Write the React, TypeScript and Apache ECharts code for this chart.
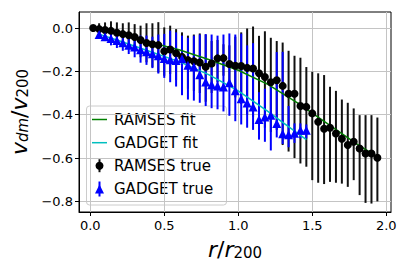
import React, { useEffect, useRef } from "react";
import * as echarts from "echarts";

// ---------- data ----------
const ramsesR = [0.02, 0.06, 0.10, 0.14, 0.18, 0.22, 0.26, 0.30, 0.34, 0.38, 0.42, 0.46, 0.50, 0.54, 0.58, 0.62, 0.66, 0.70, 0.74, 0.78, 0.82, 0.86, 0.90, 0.94, 0.98, 1.02, 1.06, 1.10, 1.14, 1.18, 1.22, 1.26, 1.30, 1.34, 1.38, 1.42, 1.46, 1.50, 1.54, 1.58, 1.62, 1.66, 1.70, 1.74, 1.78, 1.82, 1.86, 1.90, 1.94];
const ramsesV = [0.0, -0.005, -0.009, -0.013, -0.022, -0.028, -0.033, -0.041, -0.055, -0.069, -0.075, -0.079, -0.107, -0.099, -0.116, -0.133, -0.148, -0.153, -0.159, -0.179, -0.164, -0.14, -0.139, -0.166, -0.174, -0.175, -0.184, -0.187, -0.209, -0.226, -0.25, -0.241, -0.267, -0.303, -0.303, -0.36, -0.364, -0.394, -0.433, -0.465, -0.46, -0.487, -0.511, -0.54, -0.525, -0.556, -0.579, -0.579, -0.599];
const ramsesHi = [0.003, 0.022, 0.026, 0.031, 0.026, 0.022, 0.026, 0.018, 0.011, 0.022, 0.022, 0.027, 0.003, 0.011, -0.005, -0.02, -0.035, -0.03, -0.025, -0.03, -0.06, -0.055, -0.075, -0.08, -0.04, -0.02, -0.002, 0.007, -0.036, -0.015, -0.045, -0.06, -0.067, -0.105, -0.128, -0.137, -0.18, -0.202, -0.209, -0.217, -0.271, -0.29, -0.33, -0.345, -0.371, -0.402, -0.402, -0.402, -0.413];
const ramsesLo = [-0.003, -0.043, -0.05, -0.058, -0.074, -0.08, -0.097, -0.105, -0.135, -0.158, -0.181, -0.205, -0.22, -0.212, -0.24, -0.26, -0.28, -0.29, -0.3, -0.34, -0.3, -0.25, -0.22, -0.27, -0.32, -0.35, -0.4, -0.41, -0.4, -0.46, -0.48, -0.47, -0.54, -0.57, -0.6, -0.625, -0.64, -0.702, -0.714, -0.72, -0.71, -0.714, -0.718, -0.733, -0.702, -0.771, -0.807, -0.81, -0.8];

const gadgetR = [0.06, 0.10, 0.14, 0.18, 0.22, 0.26, 0.30, 0.34, 0.38, 0.42, 0.46, 0.50, 0.54, 0.58, 0.62, 0.66, 0.70, 0.74, 0.78, 0.82, 0.86, 0.90, 0.94, 0.98, 1.02, 1.06, 1.10, 1.14, 1.18, 1.22, 1.26, 1.30, 1.34, 1.38, 1.42, 1.46];
const gadgetV = [-0.03, -0.04, -0.048, -0.058, -0.068, -0.079, -0.088, -0.1, -0.11, -0.119, -0.128, -0.141, -0.146, -0.15, -0.142, -0.172, -0.18, -0.216, -0.249, -0.262, -0.268, -0.272, -0.252, -0.29, -0.326, -0.346, -0.364, -0.422, -0.41, -0.402, -0.44, -0.488, -0.493, -0.486, -0.472, -0.472];
const gadgetHi = [-0.015, -0.018, -0.02, -0.022, -0.025, -0.028, -0.03, -0.035, -0.035, -0.04, -0.03, -0.027, -0.012, -0.02, -0.035, -0.045, -0.035, -0.03, -0.028, -0.03, -0.035, -0.03, -0.025, -0.03, -0.026, -0.08, -0.07, -0.296, -0.28, -0.257, -0.111, -0.11, -0.36, -0.44, -0.44, -0.445];
const gadgetLo = [-0.045, -0.06, -0.08, -0.092, -0.105, -0.12, -0.135, -0.16, -0.17, -0.185, -0.21, -0.23, -0.25, -0.27, -0.31, -0.33, -0.335, -0.345, -0.36, -0.37, -0.375, -0.385, -0.405, -0.43, -0.445, -0.46, -0.47, -0.515, -0.525, -0.565, -0.505, -0.535, -0.55, -0.53, -0.51, -0.51];

const ramsesFitR = [0.02, 0.2, 0.4, 0.6, 0.8, 1.0, 1.2, 1.4, 1.6, 1.8, 1.94];
const ramsesFitV = [-0.003, -0.03, -0.065, -0.1, -0.145, -0.195, -0.26, -0.345, -0.44, -0.535, -0.595];
const gadgetFitR = [0.06, 0.2, 0.4, 0.6, 0.8, 1.0, 1.2, 1.3, 1.46];
const gadgetFitV = [-0.028, -0.06, -0.107, -0.155, -0.215, -0.29, -0.385, -0.435, -0.515];

const xTicks = [0, 0.5, 1.0, 1.5, 2.0];
const yTicks = [-0.8, -0.6, -0.4, -0.2, 0.0];

const FONT = "DejaVu Sans";

function errRender(color: string, width: number) {
  return (params: any, api: any) => {
    const x = api.value(0);
    const p1 = api.coord([x, api.value(1)]);
    const p2 = api.coord([x, api.value(2)]);
    return {
      type: "line",
      shape: { x1: p1[0], y1: p1[1], x2: p2[0], y2: p2[1] },
      style: { stroke: color, lineWidth: width },
    };
  };
}

export default function App() {
  const ref = useRef<HTMLDivElement>(null);
  useEffect(() => {
    document.body.style.margin = "0";
    const chart = echarts.init(ref.current!, null, { renderer: "svg" });
    const fmt = (v: number) => (v < 0 ? "\u2212" : "") + Math.abs(v).toFixed(1);
    const legendRows = [
      { name: "RAMSES fit", y: 119.5 },
      { name: "GADGET fit", y: 142.7 },
      { name: "RAMSES true", y: 165.7 },
      { name: "GADGET true", y: 189 },
    ];
    const option: any = {
      animation: false,
      backgroundColor: "#ffffff",
      grid: {
        left: 79,
        right: 16,
        top: 12,
        bottom: 59,
        show: true,
        borderColor: "#000",
        borderWidth: 1,
        outerBoundsMode: "none",
      },
      xAxis: {
        type: "value",
        min: -0.076,
        max: 2.032,
        name: "{i|r}{n|/}{i|r}{s|200}",
        nameLocation: "middle",
        nameGap: 20,
        nameTextStyle: {
          rich: {
            i: { fontSize: 22, fontStyle: "italic", fontFamily: FONT, color: "#000", lineHeight: 28, verticalAlign: "bottom" },
            n: { fontSize: 22, fontFamily: FONT, color: "#000", lineHeight: 28, verticalAlign: "bottom" },
            s: { fontSize: 15, fontFamily: FONT, color: "#000", lineHeight: 14, verticalAlign: "bottom" },
          },
        },
        axisLine: { show: true, onZero: false, lineStyle: { color: "#000", width: 1 } },
        axisTick: { show: true, length: 4, customValues: xTicks, lineStyle: { color: "#000" } },
        axisLabel: {
          customValues: xTicks,
          formatter: fmt,
          fontSize: 13,
          fontFamily: FONT,
          color: "#000",
          margin: 7,
        },
        splitLine: { show: true, lineStyle: { color: "#c4c4c4", width: 1 } },
      },
      yAxis: {
        type: "value",
        min: -0.849,
        max: 0.074,
        name: "{i|v}{si|dm}{n|/}{i|v}{s|200}",
        nameLocation: "middle",
        nameRotate: 90,
        nameGap: 42,
        nameTextStyle: {
          rich: {
            i: { fontSize: 22, fontStyle: "italic", fontFamily: FONT, color: "#000", lineHeight: 28, verticalAlign: "bottom" },
            si: { fontSize: 15, fontStyle: "italic", fontFamily: FONT, color: "#000", lineHeight: 14, verticalAlign: "bottom" },
            n: { fontSize: 22, fontFamily: FONT, color: "#000", lineHeight: 28, verticalAlign: "bottom" },
            s: { fontSize: 15, fontFamily: FONT, color: "#000", lineHeight: 14, verticalAlign: "bottom" },
          },
        },
        axisLine: { show: true, onZero: false, lineStyle: { color: "#000", width: 1 } },
        axisTick: { show: true, length: 4, customValues: yTicks, lineStyle: { color: "#000" } },
        axisLabel: {
          customValues: yTicks,
          formatter: fmt,
          fontSize: 13,
          fontFamily: FONT,
          color: "#000",
          margin: 6,
        },
        splitLine: { show: true, lineStyle: { color: "#c4c4c4", width: 1 } },
      },
      series: [
        {
          name: "RAMSES true err",
          type: "custom",
          renderItem: errRender("#111111", 2),
          encode: { x: 0, y: [1, 2] },
          data: ramsesR.map((r, i) => [r, ramsesLo[i], ramsesHi[i]]),
          z: 2,
          clip: true,
        },
        {
          name: "GADGET true err",
          type: "custom",
          renderItem: errRender("#0000ff", 2),
          encode: { x: 0, y: [1, 2] },
          data: gadgetR.map((r, i) => [r, gadgetLo[i], gadgetHi[i]]),
          z: 3,
          clip: true,
        },
        {
          name: "RAMSES fit",
          type: "line",
          showSymbol: false,
          symbol: "none",
          lineStyle: { color: "#008000", width: 1.5 },
          data: ramsesFitR.map((r, i) => [r, ramsesFitV[i]]),
          z: 4,
        },
        {
          name: "GADGET fit",
          type: "line",
          showSymbol: false,
          symbol: "none",
          lineStyle: { color: "#00bfbf", width: 1.5 },
          data: gadgetFitR.map((r, i) => [r, gadgetFitV[i]]),
          z: 4,
        },
        {
          name: "RAMSES true",
          type: "scatter",
          symbol: "circle",
          symbolSize: 8,
          itemStyle: { color: "#000000", opacity: 1 },
          data: ramsesR.map((r, i) => [r, ramsesV[i]]),
          z: 5,
        },
        {
          name: "GADGET true",
          type: "scatter",
          symbol: "triangle",
          symbolSize: [9, 9],
          itemStyle: { color: "#0000ff", opacity: 1 },
          data: gadgetR.map((r, i) => [r, gadgetV[i]]),
          z: 6,
        },
      ],
      graphic: [
        {
          type: "group",
          z: 100,
          children: [
            {
              type: "rect",
              shape: { x: 86.5, y: 106, width: 140, height: 99, r: 3 },
              style: { fill: "rgba(255,255,255,0.8)", stroke: "#cccccc", lineWidth: 1 },
            },
            {
              type: "line",
              shape: { x1: 92, y1: legendRows[0].y, x2: 107, y2: legendRows[0].y },
              style: { stroke: "#008000", lineWidth: 1.5 },
            },
            {
              type: "line",
              shape: { x1: 92, y1: legendRows[1].y, x2: 107, y2: legendRows[1].y },
              style: { stroke: "#00bfbf", lineWidth: 1.5 },
            },
            {
              type: "line",
              shape: { x1: 99.5, y1: legendRows[2].y - 6.5, x2: 99.5, y2: legendRows[2].y + 6.5 },
              style: { stroke: "#111111", lineWidth: 2 },
            },
            {
              type: "circle",
              shape: { cx: 99.5, cy: legendRows[2].y, r: 4 },
              style: { fill: "#000000" },
            },
            {
              type: "line",
              shape: { x1: 99.5, y1: legendRows[3].y - 7.5, x2: 99.5, y2: legendRows[3].y + 7.5 },
              style: { stroke: "#0000ff", lineWidth: 2 },
            },
            {
              type: "polygon",
              shape: { points: [[99.5, legendRows[3].y - 4.5], [95, legendRows[3].y + 4.5], [104, legendRows[3].y + 4.5]] },
              style: { fill: "#0000ff" },
            },
            ...legendRows.map((row) => ({
              type: "text",
              x: 114,
              y: row.y,
              style: {
                text: row.name,
                fontSize: 15,
                fontFamily: FONT,
                fill: "#000",
                verticalAlign: "middle",
                align: "left",
              },
            })),
          ],
        },
      ],
    };
    chart.setOption(option);
    return () => chart.dispose();
  }, []);
  return <div ref={ref} style={{ width: 407, height: 271 }} />;
}
